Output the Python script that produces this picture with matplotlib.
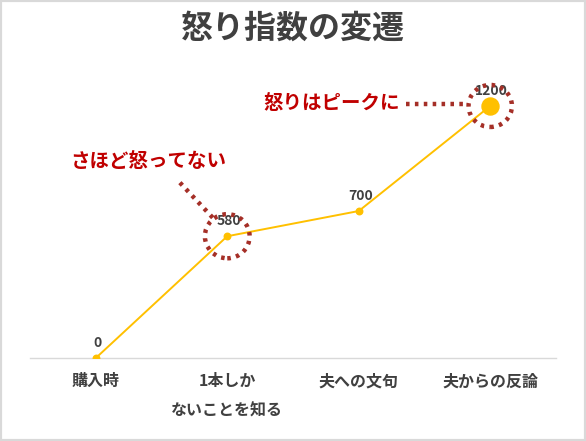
import matplotlib
matplotlib.use("Agg")
import matplotlib.pyplot as plt
from matplotlib.patches import Ellipse, Rectangle

plt.rcParams['font.family'] = ['Noto Sans CJK JP', 'DejaVu Sans']

categories = ["購入時", "1本しか\nないことを知る", "夫への文句", "夫からの反論"]
values = [0, 580, 700, 1200]
title = "怒り指数の変遷"
note1 = "さほど怒ってない"
note2 = "怒りはピークに"

LINE = '#FFC000'
TXT = '#404040'
RED = '#C00000'
DOT = '#A52F27'

fig = plt.figure(figsize=(5.86, 4.41), dpi=100)
fig.patches.append(Rectangle((0, 0), 1, 1, transform=fig.transFigure,
                             facecolor='white', edgecolor='#D9D9D9', linewidth=3, zorder=-1))
ax = fig.add_axes([0.0512, 0.188, 0.8976, 0.667])
x = list(range(len(categories)))
ax.plot(x, values, color=LINE, linewidth=1.4, zorder=3)
ax.scatter(x[:-1], values[:-1], s=22, color=LINE, zorder=4)
ax.scatter(x[-1:], values[-1:], s=150, color=LINE, zorder=4)

for xi, v in zip(x, values):
    ax.annotate(f"{v}", (xi, v), xytext=(1, 6), textcoords='offset points',
                ha='center', va='bottom', fontsize=10, fontweight='bold', color=TXT)

ax.set_xlim(-0.5, 3.5)
ax.set_ylim(0, 1400)
ax.set_xticks(x)
ax.set_xticklabels(categories, fontsize=11.5, fontweight='bold', color=TXT, linespacing=2.0)
ax.tick_params(axis='x', length=0, pad=11)
ax.set_yticks([])
for s in ['top', 'right', 'left']:
    ax.spines[s].set_visible(False)
ax.spines['bottom'].set_color('#D9D9D9')
ax.spines['bottom'].set_linewidth(1)

fig.text(0.5, 0.936, title, ha='center', va='center', fontsize=23,
         fontweight='bold', color=TXT)

# dotted highlight circles
for i, (w, h) in [(1, (0.34, 210)), (3, (0.33, 200))]:
    ax.add_patch(Ellipse((x[i], values[i]), w, h, fill=False, edgecolor=DOT,
                         linewidth=3.2, linestyle=(0, (0.8, 1.2)), zorder=5, clip_on=False))

# callouts
ax.text(0.40, 935, note1, ha='center', va='center', fontsize=14,
        fontweight='bold', color=RED)
ax.plot([0.64, 0.89], [835, 668], color=DOT, linewidth=3.2,
        linestyle=(0, (0.8, 1.2)), zorder=5)
ax.text(2.31, 1210, note2, ha='right', va='center', fontsize=14,
        fontweight='bold', color=RED)
ax.plot([2.36, 2.82], [1210, 1210], color=DOT, linewidth=3.2,
        linestyle=(0, (0.8, 1.2)), zorder=5)

fig.savefig("out.png", dpi=100)
